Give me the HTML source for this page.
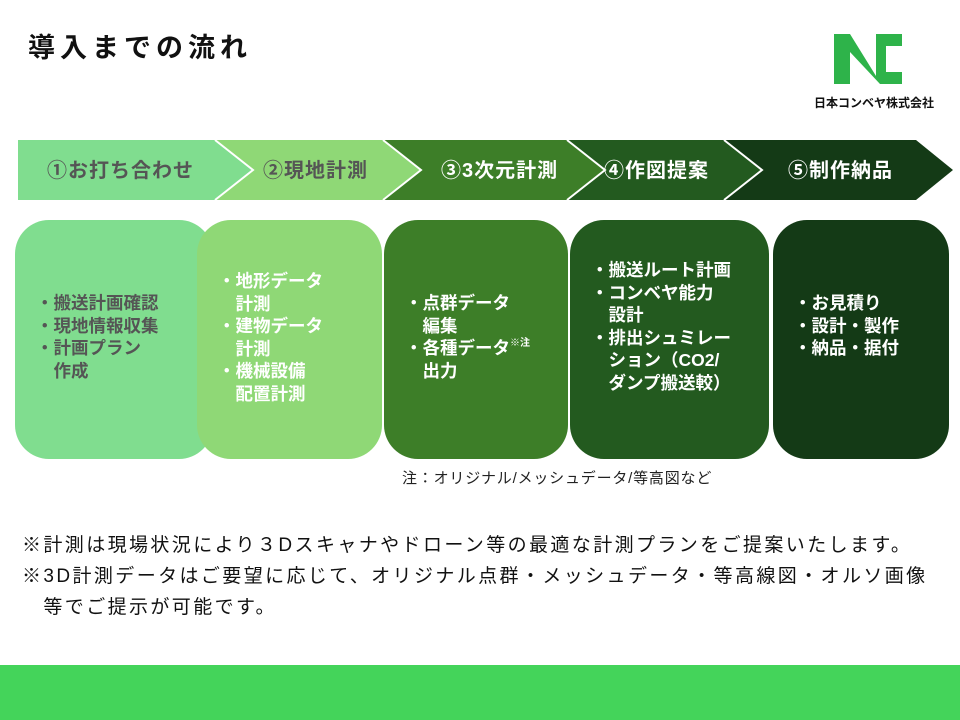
<!DOCTYPE html>
<html><head><meta charset="utf-8"><style>
body{margin:0;width:960px;height:720px;background:#fff;position:relative;overflow:hidden;font-family:"Liberation Sans","Noto Sans CJK JP",sans-serif;}
.a{position:absolute;}
.box{position:absolute;top:220px;height:239px;border-radius:34px;}
.t{position:absolute;white-space:pre;font-weight:bold;font-size:17.5px;line-height:22.5px;}
.lab{position:absolute;top:154px;font-size:20px;font-weight:bold;letter-spacing:1px;}
.note{font-size:19px;color:#111;line-height:31px;letter-spacing:2.4px;}
</style></head><body>
<div class="a" style="left:28px;top:26px;font-size:27px;font-weight:bold;color:#111;letter-spacing:5px;">導入までの流れ</div>
<svg class="a" style="left:832px;top:32px" width="72" height="54" viewBox="0 0 72 54">
<path d="M2 2H18L44 44V2H70V14H54V40H70V52H48L18 20V52H2Z" fill="#2eb34a"/>
</svg>
<div class="a" style="left:814px;top:94px;font-size:12px;font-weight:bold;color:#111;">日本コンベヤ株式会社</div>

<svg class="a" style="left:0;top:0" width="960" height="210">
<polygon points="18,140 215,140 253,170 215,200 18,200" fill="#80dd8f"/>
<polygon points="215,140 383,140 421,170 383,200 215,200 253,170" fill="#8fd876"/>
<polygon points="383,140 567,140 605,170 567,200 383,200 421,170" fill="#3d7e28"/>
<polygon points="567,140 724,140 762,170 724,200 567,200 605,170" fill="#235a1f"/>
<polygon points="724,140 916,140 953,170 916,200 724,200 762,170" fill="#143a16"/>
<polyline points="215,140 253,170 215,200" fill="none" stroke="#fff" stroke-width="2"/>
<polyline points="383,140 421,170 383,200" fill="none" stroke="#fff" stroke-width="2"/>
<polyline points="567,140 605,170 567,200" fill="none" stroke="#fff" stroke-width="2"/>
<polyline points="724,140 762,170 724,200" fill="none" stroke="#fff" stroke-width="2"/>
</svg>
<div class="lab" style="left:47px;color:#555">①お打ち合わせ</div>
<div class="lab" style="left:263px;color:#555">②現地計測</div>
<div class="lab" style="left:441px;color:#fff">③3次元計測</div>
<div class="lab" style="left:604px;color:#fff">④作図提案</div>
<div class="lab" style="left:788px;color:#fff">⑤制作納品</div>

<div class="box" style="left:15px;width:198px;background:#80dd8f;"></div>
<div class="box" style="left:197px;width:185px;background:#8fd876;"></div>
<div class="box" style="left:384px;width:184px;background:#3d7e28;"></div>
<div class="box" style="left:570px;width:199px;background:#235a1f;"></div>
<div class="box" style="left:773px;width:176px;background:#143a16;"></div>
<div class="t" style="left:36px;top:292px;color:#555">・搬送計画確認
・現地情報収集
・計画プラン
　作成</div>
<div class="t" style="left:218px;top:270px;color:#fff">・地形データ
　計測
・建物データ
　計測
・機械設備
　配置計測</div>
<div class="t" style="left:405px;top:292px;color:#fff">・点群データ
　編集
・各種データ<span style="font-size:10px;vertical-align:top;line-height:14px">※注</span>
　出力</div>
<div class="t" style="left:591px;top:259px;color:#fff">・搬送ルート計画
・コンベヤ能力
　設計
・排出シュミレー
　ション（CO2/
　ダンプ搬送較）</div>
<div class="t" style="left:794px;top:292px;color:#fff">・お見積り
・設計・製作
・納品・据付</div>

<div class="a" style="left:402px;top:467px;font-size:15px;color:#222;letter-spacing:0.8px;">注：オリジナル/メッシュデータ/等高図など</div>
<div class="a note" style="left:22px;top:530px;">※計測は現場状況により３Dスキャナやドローン等の最適な計測プランをご提案いたします。</div>
<div class="a note" style="left:22px;top:561px;">※3D計測データはご要望に応じて、オリジナル点群・メッシュデータ・等高線図・オルソ画像<br>　等でご提示が可能です。</div>
<div class="a" style="left:0;top:665px;width:960px;height:55px;background:#44d45a;"></div>
</body></html>
